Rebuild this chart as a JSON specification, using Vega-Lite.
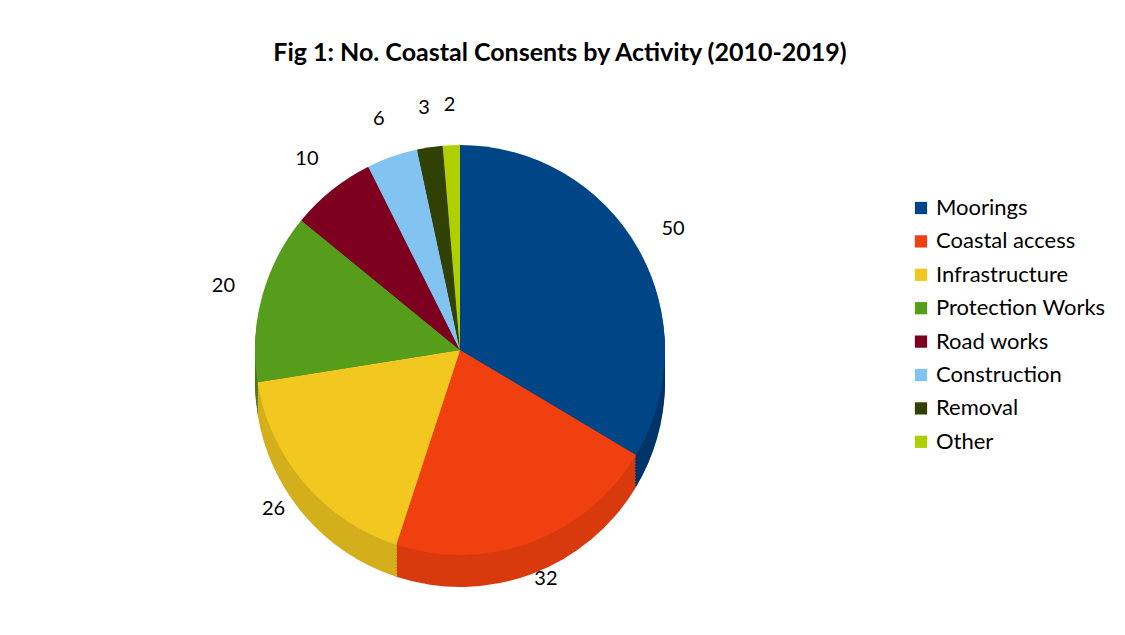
{
  "$schema": "https://vega.github.io/schema/vega-lite/v6.json",
  "autosize": {"type": "none"},
  "width": 860,
  "height": 540,
  "padding": {"left": 30, "top": 80, "right": 235, "bottom": 15},
  "background": "white",
  "config": {"view": {"stroke": null}, "font": "Lato"},
  "title": {
    "text": "Fig 1: No. Coastal Consents by Activity (2010-2019)",
    "font": "Lato",
    "fontSize": 25,
    "fontWeight": "bold",
    "color": "#000000",
    "anchor": "middle",
    "dx": 100,
    "offset": 14
  },
  "data": {
    "values": [
      {"activity": "Moorings", "count": 50, "idx": 1},
      {"activity": "Coastal access", "count": 32, "idx": 2},
      {"activity": "Infrastructure", "count": 26, "idx": 3},
      {"activity": "Protection Works", "count": 20, "idx": 4},
      {"activity": "Road works", "count": 10, "idx": 5},
      {"activity": "Construction", "count": 6, "idx": 6},
      {"activity": "Removal", "count": 3, "idx": 7},
      {"activity": "Other", "count": 2, "idx": 8}
    ]
  },
  "encoding": {
    "theta": {"field": "count", "type": "quantitative", "stack": true},
    "order": {"field": "idx", "type": "quantitative"}
  },
  "resolve": {"scale": {"color": "independent"}, "legend": {"color": "independent"}},
  "layer": [
    {
      "encoding": {
        "color": {"field": "activity", "type": "nominal", "legend": null,
          "scale": {"domain": ["Moorings", "Coastal access", "Infrastructure", "Protection Works", "Road works", "Construction", "Removal", "Other"],
                    "range": ["#003468", "#d83a0e", "#d4af1c", "#467d16", "#65001a", "#6aa3cc", "#273303", "#8ba500"]}}
      },
      "layer": [
        {"mark": {"type": "arc", "outerRadius": 205, "yOffset": 32, "stroke": null}},
        {"mark": {"type": "arc", "outerRadius": 205, "yOffset": 29, "stroke": null}},
        {"mark": {"type": "arc", "outerRadius": 205, "yOffset": 26, "stroke": null}},
        {"mark": {"type": "arc", "outerRadius": 205, "yOffset": 23, "stroke": null}},
        {"mark": {"type": "arc", "outerRadius": 205, "yOffset": 20, "stroke": null}},
        {"mark": {"type": "arc", "outerRadius": 205, "yOffset": 17, "stroke": null}},
        {"mark": {"type": "arc", "outerRadius": 205, "yOffset": 14, "stroke": null}},
        {"mark": {"type": "arc", "outerRadius": 205, "yOffset": 11, "stroke": null}},
        {"mark": {"type": "arc", "outerRadius": 205, "yOffset": 8, "stroke": null}},
        {"mark": {"type": "arc", "outerRadius": 205, "yOffset": 5, "stroke": null}},
        {"mark": {"type": "arc", "outerRadius": 205, "yOffset": 2, "stroke": null}}
      ]
    },
    {
      "encoding": {
        "color": {"field": "activity", "type": "nominal",
          "scale": {"domain": ["Moorings", "Coastal access", "Infrastructure", "Protection Works", "Road works", "Construction", "Removal", "Other"],
                    "range": ["#004586", "#f0400f", "#f2c820", "#579d1c", "#7e0021", "#83c3f2", "#314004", "#aecf00"]},
          "legend": {
            "title": null,
            "orient": "none",
            "legendX": 880,
            "legendY": 117,
            "symbolType": "square",
            "symbolSize": 150,
            "symbolStrokeWidth": 0,
            "labelFont": "Lato",
            "labelFontSize": 22,
            "labelColor": "#000000",
            "labelOffset": 4,
            "rowPadding": 11.4,
            "labelLimit": 300
          }
        }
      },
      "layer": [
        {"mark": {"type": "arc", "outerRadius": 205, "stroke": null}},
        {
          "mark": {"type": "text", "radius": 245, "font": "Lato", "fontSize": 20, "color": "#000000"},
          "encoding": {"text": {"field": "count", "type": "quantitative"}, "color": {"value": "#000000"}}
        }
      ]
    }
  ]
}
